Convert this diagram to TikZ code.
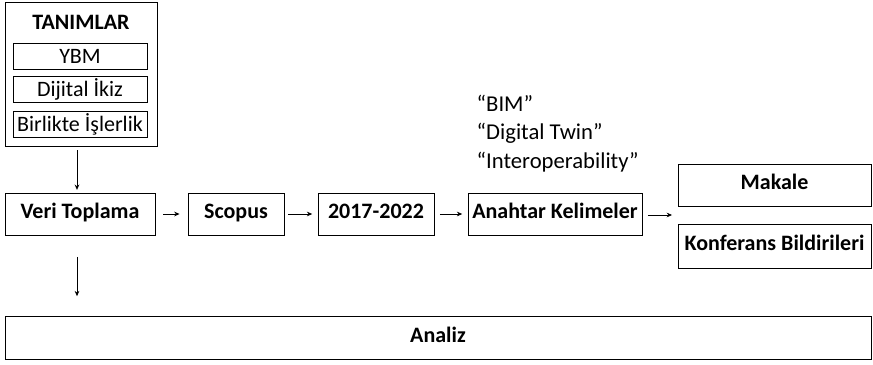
\documentclass[tikz,border=0pt]{standalone}
\usepackage{fontspec}
\setmainfont{Carlito}
\usepackage{tikz}
\usetikzlibrary{positioning,arrows.meta}

\begin{document}
\begin{tikzpicture}[
        x=0.75pt, y=-0.75pt,
        every node/.style = {font=\fontsize{16.5}{20}\selectfont},
        box/.style = {draw, line width=0.7pt, inner sep=0pt, minimum height=31.5pt, text height=10pt, text depth=4pt},
        subbox/.style = {draw, line width=0.7pt, inner sep=0pt, minimum width=100.5pt, minimum height=19.5pt, text height=13.6pt, text depth=3pt},
        title/.style = {font=\fontsize{16.5}{20}\selectfont\bfseries},
        keyword/.style = {anchor=west, font=\fontsize{17}{20}\selectfont},
        arrow/.style = {-{Stealth[length=4pt,width=3.5pt]}, line width=0.6pt}
    ]
    \useasboundingbox (0,0) rectangle (873,364);

    % Definitions
    \node[draw, line width=0.7pt, minimum width=114pt, minimum height=108pt] (tanimlar) at (81,74) {};
    \node[title] (tanimbaslik) at (81,22) {TANIMLAR};
    \node[subbox] (ybm) at (80,56) {YBM};
    \node[subbox] (ikiz) at (80,89.5) {Dijital İkiz};
    \node[subbox] (islerlik) at (80,124) {Birlikte İşlerlik};

    % Main flow
    \node[box, title, minimum width=112.5pt] (veri) at (80,214) {Veri Toplama};
    \node[box, title, minimum width=72pt] (scopus) at (236,214) {Scopus};
    \node[box, title, minimum width=87pt] (yil) at (376,214) {2017-2022};
    \node[box, title, minimum width=130.5pt] (anahtar) at (555,214) {Anahtar Kelimeler};
    \node[box, title, minimum width=144.75pt] (makale) at (774.5,185) {Makale};
    \node[box, title, minimum width=144.75pt, minimum height=33pt] (konferans) at (774.5,246) {Konferans Bildirileri};
    \node[box, title, minimum width=649.5pt, minimum height=32pt] (analiz) at (438,338) {Analiz};

    % Keywords
    \node[keyword] (bim) at (472,103) {“BIM”};
    \node[keyword] (twin) at (472,133) {“Digital Twin”};
    \node[keyword] (interop) at (472,162) {“Interoperability”};

    \coordinate (ayrim) at (672,215);

    % Arrows
    \draw[arrow, shorten <=3pt, shorten >=2pt] ([xshift=-3pt]tanimlar.south) -- ([xshift=-2.25pt]veri.north);
    \draw[arrow, shorten <=6pt, shorten >=6pt] (veri) -- (scopus);
    \draw[arrow, shorten <=3pt, shorten >=4pt] (scopus) -- (yil);
    \draw[arrow, shorten <=4pt, shorten >=4pt] (yil) -- (anahtar);
    \draw[arrow, shorten <=4pt] (anahtar.east |- ayrim) -- (ayrim);
    \draw[arrow, shorten <=16pt, shorten >=15pt] ([xshift=-2.25pt]veri.south) -- ([xshift=-2.25pt]veri.south |- analiz.north);

\end{tikzpicture}
\end{document}
